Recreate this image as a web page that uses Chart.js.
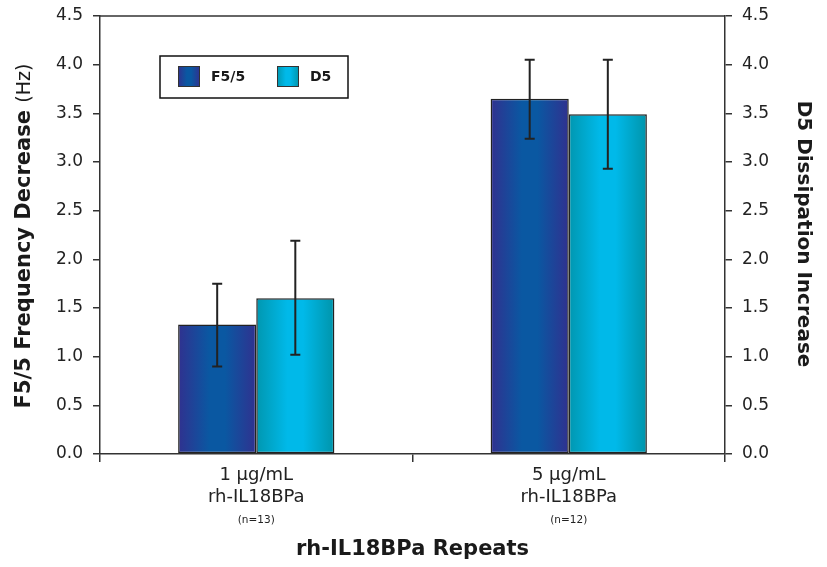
<!DOCTYPE html>
<html lang="en">
<head>
  <meta charset="UTF-8" />
  <title>rh-IL18BPa Repeats</title>
  <script src="https://cdn.jsdelivr.net/npm/chart.js"></script>
  <style>
    body { margin: 0; background: #fff; }
    canvas { display: block; }
  </style>
</head>
<body>
  <canvas id="chart" width="827" height="567"></canvas>
  <script>
    // data
    const categories = ['1 µg/mL', '5 µg/mL'];
    const categorySub = ['rh-IL18BPa', 'rh-IL18BPa'];
    const categoryN = ['(n=13)', '(n=12)'];
    const seriesNames = ['F5/5', 'D5'];
    const f55Values = [1.33, 3.65];
    const f55Low = [0.90, 3.24];
    const f55High = [1.75, 4.05];
    const d5Values = [1.60, 3.49];
    const d5Low = [1.02, 2.93];
    const d5High = [2.19, 4.05];

    const FONT = '"DejaVu Sans", "Liberation Sans", Arial, sans-serif';
    const f55Stops = ['#30318f', '#0a58a2', '#0a58a2', '#30318f'];
    const d5Stops = ['#0097b0', '#00b9e9', '#00b9e9', '#0094aa'];
    const errLow = [f55Low, d5Low];
    const errHigh = [f55High, d5High];

    function makeGradient(c, x0, x1, stops) {
      const g = c.createLinearGradient(x0, 0, x1, 0);
      g.addColorStop(0, stops[0]);
      g.addColorStop(0.4, stops[1]);
      g.addColorStop(0.6, stops[2]);
      g.addColorStop(1, stops[3]);
      return g;
    }

    function barFill(stops) {
      return (ctx) => {
        const chart = ctx.chart;
        const xs = chart.scales.x;
        if (!xs || ctx.dataIndex === undefined || !chart.chartArea) return stops[1];
        const catW = (xs.right - xs.left) / categories.length;
        const barW = catW * 0.5 / 2;
        const cx = xs.getPixelForValue(ctx.dataIndex) + (ctx.datasetIndex === 0 ? -barW / 2 : barW / 2);
        return makeGradient(chart.ctx, cx - barW / 2, cx + barW / 2, stops);
      };
    }

    const extras = {
      id: 'extras',
      afterDatasetsDraw(chart) {
        const c = chart.ctx;
        const y = chart.scales.y;
        c.save();
        c.strokeStyle = '#222';
        c.lineWidth = 2;
        chart.data.datasets.forEach((ds, i) => {
          chart.getDatasetMeta(i).data.forEach((bar, j) => {
            const top = y.getPixelForValue(errHigh[i][j]);
            const bot = y.getPixelForValue(errLow[i][j]);
            c.beginPath();
            c.moveTo(bar.x, top); c.lineTo(bar.x, bot);
            c.moveTo(bar.x - 5, top); c.lineTo(bar.x + 5, top);
            c.moveTo(bar.x - 5, bot); c.lineTo(bar.x + 5, bot);
            c.stroke();
          });
        });
        c.restore();
      },
      afterDraw(chart) {
        const c = chart.ctx;
        const a = chart.chartArea;
        const xs = chart.scales.x;
        c.save();
        // frame line along the top
        c.strokeStyle = '#333';
        c.lineWidth = 1.5;
        c.beginPath();
        c.moveTo(a.left, a.top); c.lineTo(a.right, a.top);
        c.stroke();

        // category labels
        c.fillStyle = '#222';
        c.textAlign = 'center';
        c.textBaseline = 'middle';
        categories.forEach((lab, i) => {
          const x = xs.getPixelForValue(i);
          c.font = '18px ' + FONT;
          c.fillText(lab, x, a.bottom + 21);
          c.fillText(categorySub[i], x, a.bottom + 43);
          c.font = '10.5px ' + FONT;
          c.fillText(categoryN[i], x, a.bottom + 66);
        });

        // x title
        c.fillStyle = '#1a1a1a';
        c.font = 'bold 21px ' + FONT;
        c.fillText('rh-IL18BPa Repeats', (a.left + a.right) / 2, 550);

        // left title (bold part + plain units)
        const boldTxt = 'F5/5 Frequency Decrease ';
        const unitTxt = '(Hz)';
        c.font = 'bold 21px ' + FONT;
        const wb = c.measureText(boldTxt).width;
        c.font = '19px ' + FONT;
        const wu = c.measureText(unitTxt).width;
        c.save();
        c.translate(25, 236);
        c.rotate(-Math.PI / 2);
        c.textAlign = 'left';
        let sx = -(wb + wu) / 2;
        c.font = 'bold 21px ' + FONT;
        c.fillText(boldTxt, sx, 0);
        c.font = '19px ' + FONT;
        c.fillText(unitTxt, sx + wb, 0);
        c.restore();

        // right title
        c.save();
        c.translate(803, 234);
        c.rotate(Math.PI / 2);
        c.textAlign = 'center';
        c.font = 'bold 20px ' + FONT;
        c.fillText('D5 Dissipation Increase', 0, 0);
        c.restore();

        // legend box
        c.strokeStyle = '#111';
        c.lineWidth = 1.5;
        c.strokeRect(160, 56, 188, 42);
        const sw = [[178, f55Stops], [277, d5Stops]];
        c.lineWidth = 1;
        c.strokeStyle = '#333';
        sw.forEach(([x, stops], i) => {
          c.fillStyle = makeGradient(c, x, x + 22, stops);
          c.fillRect(x, 66, 22, 21);
          c.strokeRect(x + 0.5, 66.5, 21, 20);
          c.fillStyle = '#1a1a1a';
          c.font = 'bold 14px ' + FONT;
          c.textAlign = 'left';
          c.fillText(seriesNames[i], x + 33, 77);
        });
        c.restore();
      }
    };

    const yTickCfg = {
      min: 0, max: 4.5,
      border: { display: true, color: '#333', width: 1.5 },
      grid: { drawOnChartArea: false, drawTicks: true, tickLength: 7, color: '#333', lineWidth: 1.5 },
      ticks: {
        stepSize: 0.5, padding: 10, color: '#222',
        font: { size: 17, family: FONT },
        callback: (v) => v.toFixed(1)
      }
    };

    function fitY(width) {
      return (s) => { s.width = width; s.paddingTop = 0; s.paddingBottom = 0; };
    }

    new Chart(document.getElementById('chart'), {
      type: 'bar',
      data: {
        labels: categories,
        datasets: [
          { label: seriesNames[0], data: f55Values, backgroundColor: barFill(f55Stops) },
          { label: seriesNames[1], data: d5Values, backgroundColor: barFill(d5Stops) }
        ]
      },
      options: {
        responsive: false,
        animation: false,
        layout: { padding: { top: 16, left: 0, right: 0, bottom: 0 } },
        datasets: {
          bar: {
            categoryPercentage: 0.5, barPercentage: 1,
            borderColor: '#222', borderWidth: 1.5, borderSkipped: false
          }
        },
        plugins: { legend: { display: false }, tooltip: { enabled: false } },
        scales: {
          x: {
            border: { display: true, color: '#333', width: 1.5 },
            grid: { drawOnChartArea: false, drawTicks: true, tickLength: 8, offset: true, color: '#333', lineWidth: 1.5 },
            ticks: { display: false },
            afterFit: (s) => { s.height = 113; }
          },
          y: Object.assign({ position: 'left', afterFit: fitY(100) }, yTickCfg),
          y2: Object.assign({ position: 'right', afterFit: fitY(102) }, yTickCfg)
        }
      },
      plugins: [extras]
    });
  </script>
</body>
</html>
